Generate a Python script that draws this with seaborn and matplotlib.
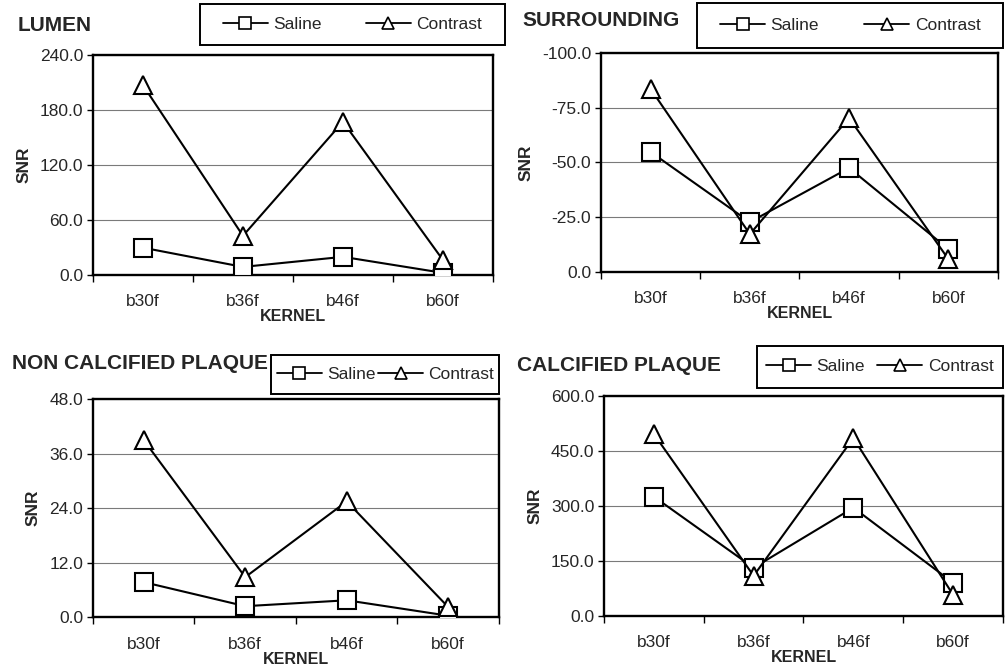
import pandas as pd
import matplotlib
matplotlib.use("Agg")
import matplotlib.pyplot as plt
from matplotlib.lines import Line2D
from matplotlib.patches import Rectangle
import seaborn as sns

# ===== DATA =====
kernels = ["b30f", "b36f", "b46f", "b60f"]
series_names = ["Saline", "Contrast"]

lumen_saline = [29.5, 8.5, 19.5, 2.0]
lumen_contrast = [207.0, 42.5, 167.0, 16.0]

surround_saline = [-54.8, -22.8, -47.5, -10.5]
surround_contrast = [-83.6, -17.3, -70.3, -5.9]

noncalc_saline = [7.7, 2.4, 3.7, 0.3]
noncalc_contrast = [39.0, 8.8, 25.5, 2.2]

calc_saline = [325.0, 131.0, 295.0, 90.0]
calc_contrast = [496.0, 109.0, 485.0, 57.0]

lumen_ticks = [0, 60, 120, 180, 240]
surround_ticks = [0, -25, -50, -75, -100]
noncalc_ticks = [0, 12, 24, 36, 48]
calc_ticks = [0, 150, 300, 450, 600]

# ===== STYLE =====
sns.set_style("white")
plt.rcParams["font.family"] = ["Liberation Sans", "DejaVu Sans"]

fig = plt.figure(figsize=(10.05, 6.7), dpi=100)

markers = {"Saline": "s", "Contrast": "^"}
msizes = {"Saline": 12.5, "Contrast": 13.5}


def draw_panel(rect, title, title_xy, saline, contrast, ticks, legend_box, pad):
    ax = fig.add_axes(rect)
    df = pd.DataFrame({
        "Kernel": kernels * 2,
        "SNR": saline + contrast,
        "Series": ["Saline"] * len(kernels) + ["Contrast"] * len(kernels),
    })
    for name in series_names:
        sub = df[df["Series"] == name]
        sns.lineplot(data=sub, x="Kernel", y="SNR", ax=ax, color="black",
                     lw=1.5, marker=markers[name], markersize=msizes[name],
                     markerfacecolor="white", markeredgecolor="black",
                     markeredgewidth=1.5, legend=False, zorder=3)

    ax.set_xlim(-0.5, len(kernels) - 0.5)
    ax.set_ylim(ticks[0], ticks[-1])
    ax.set_yticks(ticks)
    ax.set_yticklabels([f"{t:.1f}" for t in ticks])
    ax.set_xticks(range(len(kernels)))
    ax.set_xticklabels(kernels)
    ax.set_xticks([i - 0.5 for i in range(len(kernels) + 1)], minor=True)

    ax.yaxis.grid(True, color="#7a7a7a", lw=0.8)
    ax.xaxis.grid(False)
    for s in ax.spines.values():
        s.set_color("black")
        s.set_linewidth(1.7)

    ax.tick_params(axis="y", direction="out", length=4, width=1,
                   color="black", labelsize=12.5, pad=3, left=True)
    ax.tick_params(axis="x", which="major", length=0, labelsize=12.5, pad=14)
    ax.tick_params(axis="x", which="minor", direction="out", length=5,
                   width=1, color="black", bottom=True)

    ax.set_xlabel("KERNEL", fontsize=11.5, fontweight="bold", labelpad=0)
    ax.set_ylabel("SNR", fontsize=12.5, fontweight="bold", labelpad=6)

    fig.text(title_xy[0], title_xy[1], title, fontsize=15,
             fontweight="bold", ha="left", va="center")

    # legend box drawn separately so its size follows the reference
    fig.patches.append(Rectangle(legend_box[:2], legend_box[2], legend_box[3],
                                 transform=fig.transFigure, fill=False,
                                 edgecolor="black", lw=1.4))
    handles = [Line2D([], [], color="black", lw=1.3, marker=markers[n],
                      markersize=8, markerfacecolor="white",
                      markeredgecolor="black", markeredgewidth=1.2)
               for n in series_names]
    ax.legend(handles, series_names, loc="center", ncol=2,
              bbox_to_anchor=legend_box, bbox_transform=fig.transFigure,
              mode="expand", fontsize=12.5, frameon=False,
              borderpad=0.1, handlelength=2.6, handletextpad=0.3,
              columnspacing=0.4, borderaxespad=pad)
    return ax


draw_panel([0.0925, 0.590, 0.398, 0.328], "LUMEN", (0.018, 0.962),
           lumen_saline, lumen_contrast, lumen_ticks,
           (0.199, 0.933, 0.303, 0.061), 1.2)
draw_panel([0.598, 0.594, 0.395, 0.327], "SURROUNDING", (0.520, 0.969),
           surround_saline, surround_contrast, surround_ticks,
           (0.694, 0.928, 0.304, 0.068), 1.2)
draw_panel([0.0925, 0.079, 0.404, 0.325], "NON CALCIFIED PLAQUE", (0.012, 0.458),
           noncalc_saline, noncalc_contrast, noncalc_ticks,
           (0.270, 0.412, 0.227, 0.058), 0.2)
draw_panel([0.601, 0.081, 0.397, 0.328], "CALCIFIED PLAQUE", (0.514, 0.455),
           calc_saline, calc_contrast, calc_ticks,
           (0.753, 0.421, 0.245, 0.063), 0.45)

fig.savefig("out.png", dpi=100, facecolor="white")
